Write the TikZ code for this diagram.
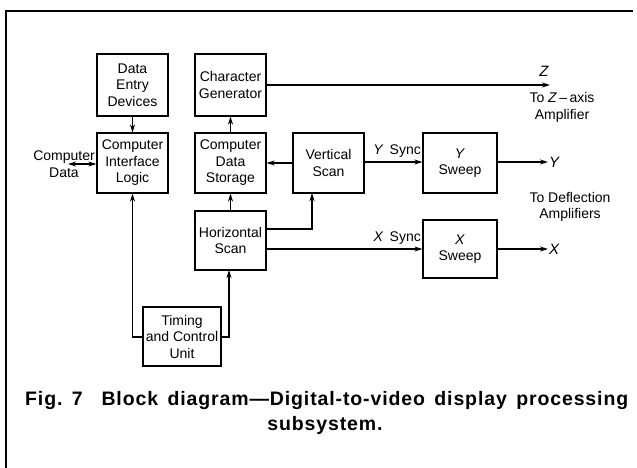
\documentclass[tikz,border=0pt]{standalone}
\usepackage{fontspec}
\setmainfont{Liberation Sans}
\newfontfamily\capfont[LetterSpace=4.5]{Liberation Sans}
\usetikzlibrary{arrows.meta}
\begin{document}
\begin{tikzpicture}[x=1pt,y=-1pt,
  blk/.style={draw,line width=1.1pt,inner sep=0pt,align=center,font=\fontsize{14}{16.5}\selectfont},
  lbl/.style={inner sep=0pt,align=center,font=\fontsize{14}{16.5}\selectfont},
  arr/.style={line width=1.2pt,-{Stealth[length=8pt,width=5pt]}},
  darr/.style={line width=1.2pt,{Stealth[length=8pt,width=5pt]}-{Stealth[length=8pt,width=5pt]}}]
\useasboundingbox (0,0) rectangle (637,468);
\fill[white] (0,0) rectangle (637,468);
\draw[line width=1.4pt] (6,468) -- (6,11) -- (633,11);
% boxes
\node[blk,minimum width=71pt,minimum height=62pt] (de) at (132.5,85) {Data\\Entry\\Devices};
\node[blk,minimum width=71pt,minimum height=60pt] (cil) at (132.5,163) {Computer\\Interface\\Logic};
\node[blk,minimum width=71pt,minimum height=62pt] (cg) at (230.5,85) {Character\\Generator};
\node[blk,minimum width=71pt,minimum height=60pt] (cds) at (230.5,163) {Computer\\Data\\Storage};
\node[blk,minimum width=71pt,minimum height=60pt] (vs) at (328.5,163) {Vertical\\Scan};
\node[blk,minimum width=71pt,minimum height=59pt] (hs) at (230.5,240.5) {Horizontal\\Scan};
\node[blk,minimum width=78pt,minimum height=59pt] (tc) at (182,336.5) {Timing\\and Control\\Unit};
\node[blk,minimum width=74pt,minimum height=60pt] (ys) at (460,163) {\textit{Y}\\Sweep};
\node[blk,minimum width=74pt,minimum height=58pt] (xs) at (460,249) {\textit{X}\\Sweep};
% coordinates
\coordinate (zend) at (550,85);
\coordinate (yend) at (548,162);
\coordinate (xend) at (548,249);
\coordinate (cdin) at (68,164);
% labels
\node[lbl,font=\fontsize{15}{16}\itshape] (zl) at (544,71) {Z};
\node[lbl] (zt) at (562,107.5) {To \textit{Z}\,--\,axis\\Amplifier};
\node[lbl,anchor=west,font=\fontsize{15}{16}\itshape] (yl) at (549,162) {Y};
\node[lbl,anchor=west,font=\fontsize{15}{16}\itshape] (xl) at (549,249) {X};
\node[lbl] (dt) at (570,207) {To Deflection\\Amplifiers};
\node[lbl,anchor=south east] (ysy) at (421,158) {\textit{Y}\, Sync};
\node[lbl,anchor=south east] (xsy) at (421,245) {\textit{X}\, Sync};
\node[lbl] (cd) at (64,164) {Computer\\Data};
% connectors
\draw[arr] (cg.east |- 0,85) -- (zend);
\draw[arr] (de) -- (cil);
\draw[darr] (cdin) -- (cil.west |- cdin);
\draw[arr] (cds) -- (cg);
\draw[arr] (vs) -- (cds);
\draw[arr] (hs) -- (cds);
\draw[arr] (hs.east |- 0,229) -- (312,229) -- (312,193);
\draw[arr] (hs.east |- 0,249) -- (xs.west |- 0,249);
\draw[arr] (vs.east |- 0,162) -- (ys.west |- 0,162);
\draw[arr] (ys.east |- 0,162) -- (yend);
\draw[arr] (xs.east |- 0,249) -- (xend);
\draw[arr] (tc.west |- 0,337) -- (132.5,337) -- (cil.south);
\draw[arr] (tc.east |- 0,337) -- (229,337) -- (229,270);
% caption
\node[inner sep=0pt,anchor=base west,font=\fontsize{19.5}{22}\capfont\bfseries] (cap1) at (25,405) {\makebox[603pt][s]{Fig.\ 7\ \ Block diagram—Digital-to-video display processing}};
\node[inner sep=0pt,anchor=base,font=\fontsize{19.5}{22}\capfont\bfseries] (cap2) at (325,430) {subsystem.};
\end{tikzpicture}
\end{document}
